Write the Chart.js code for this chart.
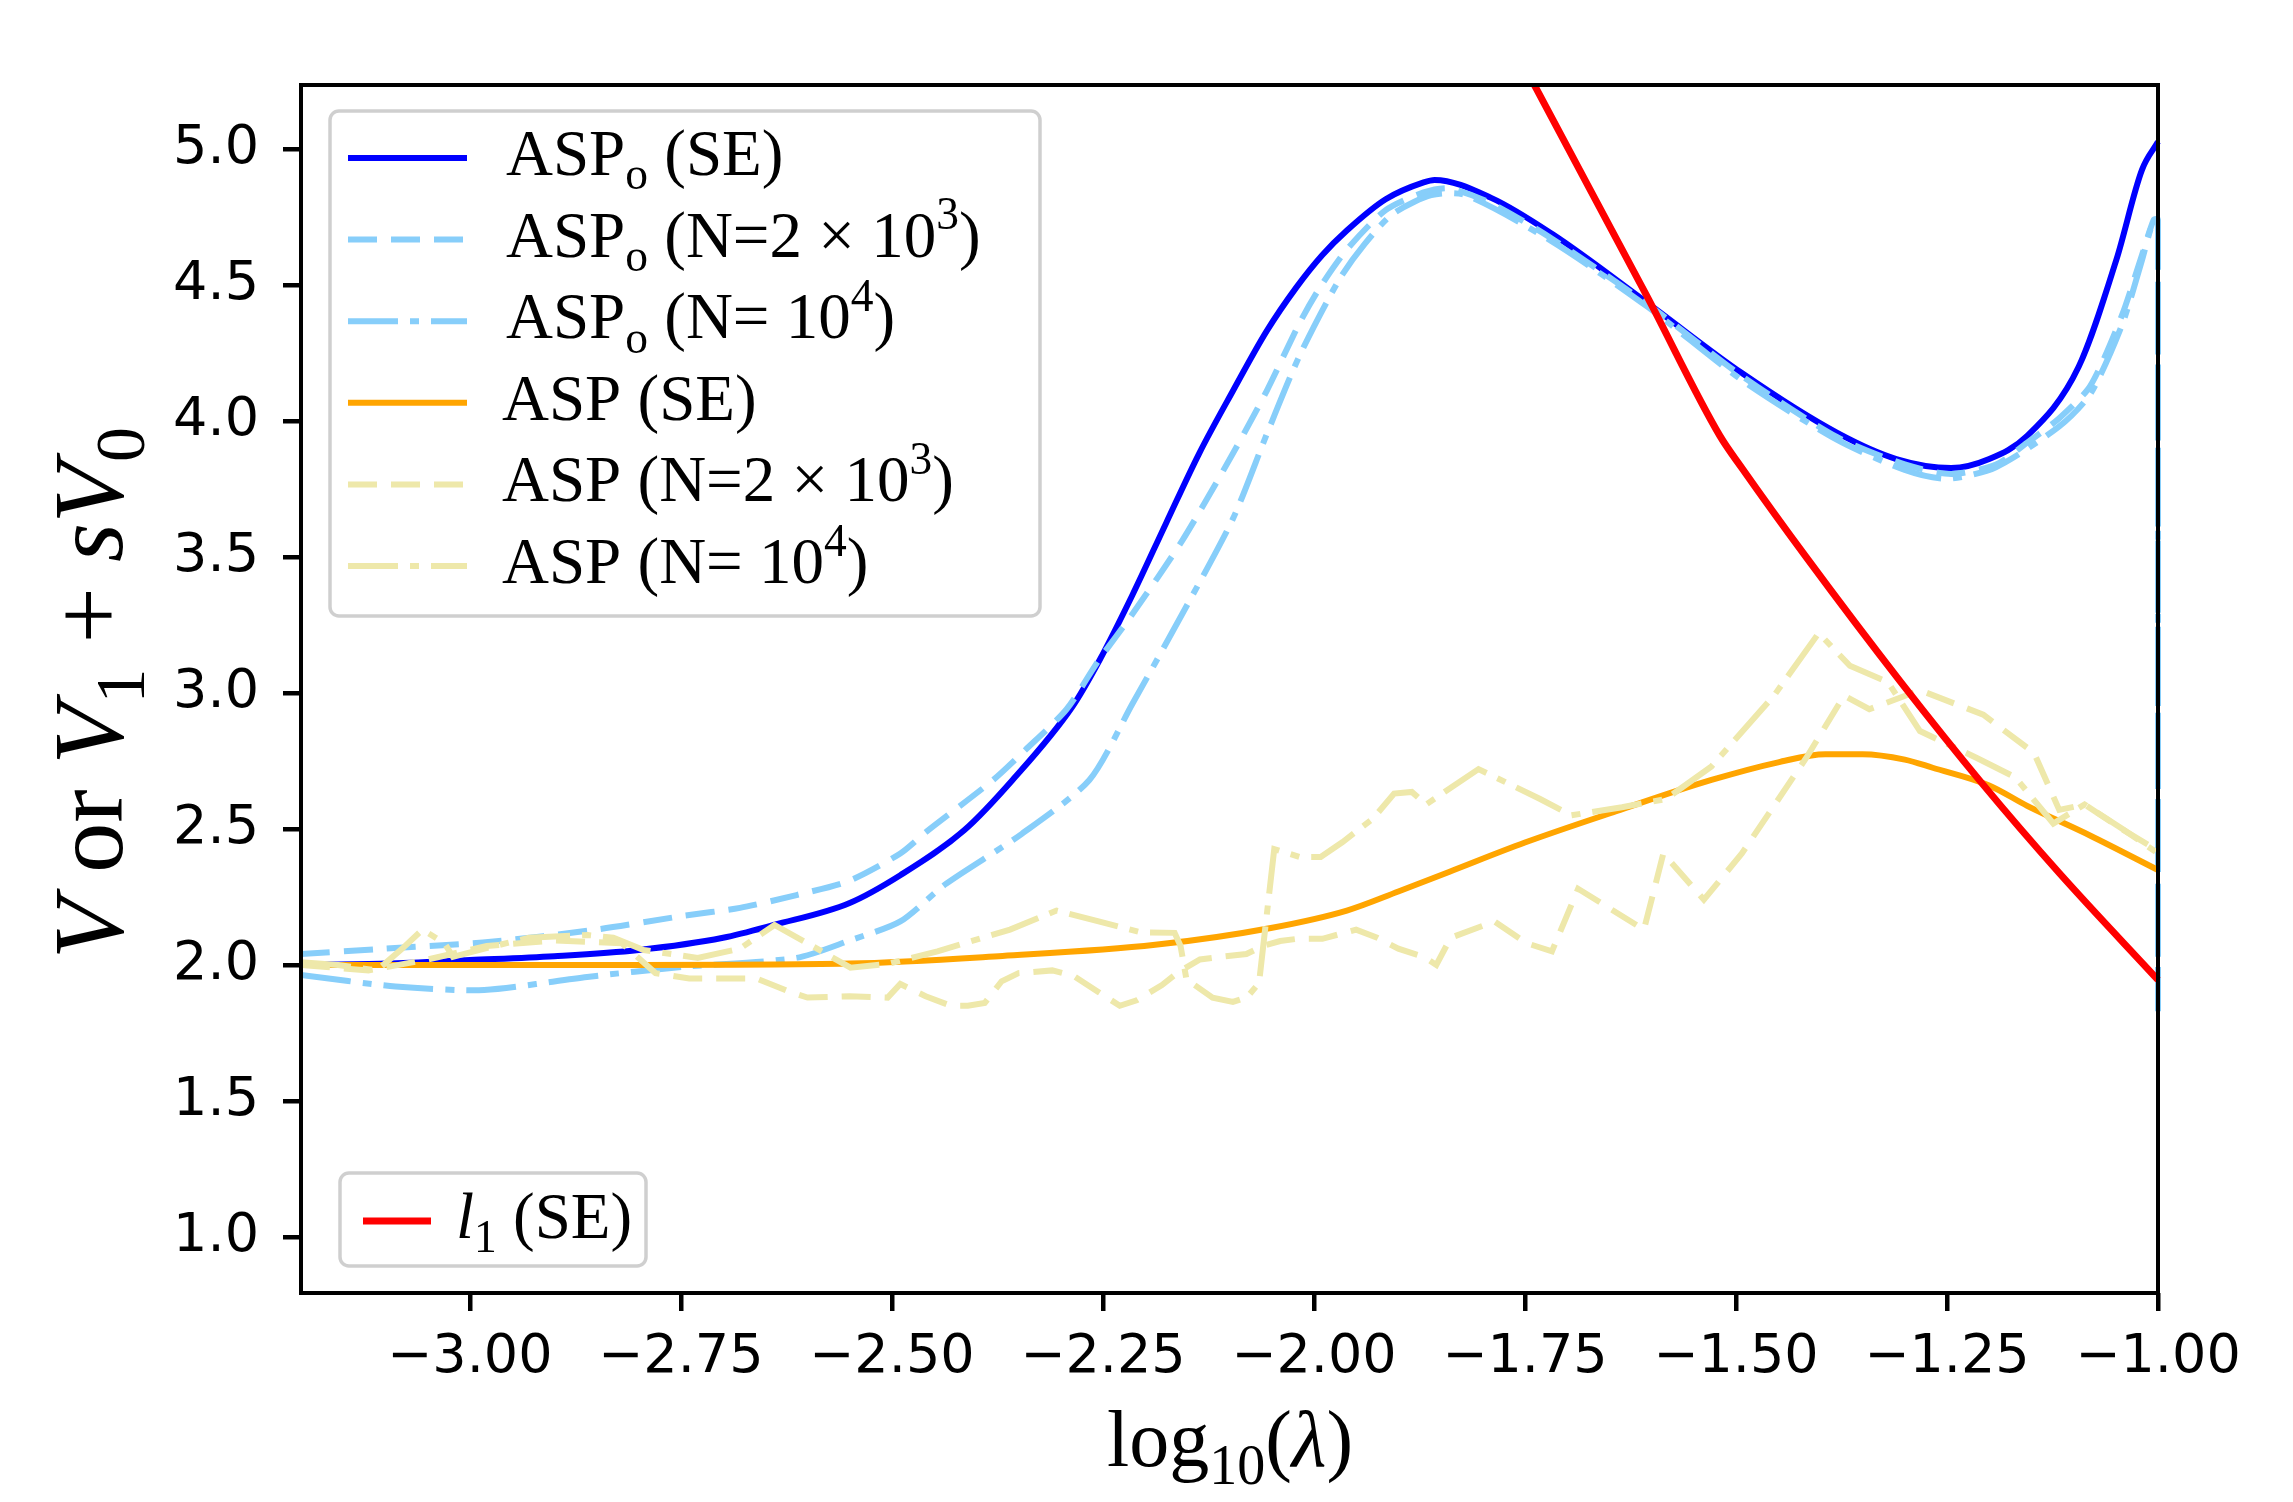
<!DOCTYPE html>
<html>
<head>
<meta charset="utf-8">
<script src="https://cdn.jsdelivr.net/npm/chart.js@4.4.0/dist/chart.umd.min.js"></script>
<style>
  html, body { margin: 0; padding: 0; background: #fff; }
  #wrap { width: 2293px; height: 1502px; }
</style>
</head>
<body>
<div id="wrap"><canvas id="chart" width="2293" height="1502"></canvas></div>
<script>
// axis ticks
const xTicks = [-3.0, -2.75, -2.5, -2.25, -2.0, -1.75, -1.5, -1.25, -1.0];
const yTicks = [1.0, 1.5, 2.0, 2.5, 3.0, 3.5, 4.0, 4.5, 5.0];

// ASP_o (SE)
const aspoSeX = [-3.20, -3.10, -3.00, -2.90, -2.80, -2.70, -2.64, -2.55, -2.49, -2.414, -2.357, -2.286, -2.254, -2.215, -2.175, -2.136, -2.096, -2.056, -2.021, -1.99, -1.961, -1.915, -1.87, -1.857, -1.79, -1.718, -1.605, -1.493, -1.38, -1.31, -1.245, -1.20, -1.155, -1.094, -1.049, -1.019, -1.00];
const aspoSeY = [2.00, 2.005, 2.018, 2.032, 2.055, 2.10, 2.147, 2.228, 2.33, 2.496, 2.68, 2.95, 3.12, 3.36, 3.625, 3.88, 4.11, 4.33, 4.49, 4.61, 4.70, 4.815, 4.877, 4.886, 4.82, 4.688, 4.434, 4.176, 3.956, 3.86, 3.827, 3.86, 3.945, 4.199, 4.596, 4.923, 5.026];

// ASP_o (N = 2e3)
const aspo2kX = [-3.20, -3.10, -2.975, -2.85, -2.748, -2.68, -2.613, -2.55, -2.49, -2.459, -2.38, -2.342, -2.293, -2.255, -2.215, -2.156, -2.096, -2.056, -2.017, -1.993, -1.961, -1.915, -1.87, -1.84, -1.79, -1.718, -1.605, -1.493, -1.38, -1.30, -1.245, -1.192, -1.155, -1.117, -1.08, -1.043, -1.02, -1.005, -1.0, -1.0];
const aspo2kY = [2.04, 2.06, 2.085, 2.13, 2.18, 2.21, 2.257, 2.31, 2.41, 2.49, 2.68, 2.79, 2.94, 3.12, 3.29, 3.56, 3.88, 4.11, 4.36, 4.49, 4.63, 4.775, 4.84, 4.855, 4.80, 4.67, 4.43, 4.165, 3.94, 3.84, 3.805, 3.84, 3.92, 4.01, 4.13, 4.386, 4.60, 4.74, 4.74, 1.88];

// ASP_o (N = 1e4)
const aspo10kX = [-3.20, -3.088, -2.983, -2.861, -2.748, -2.613, -2.55, -2.49, -2.436, -2.346, -2.266, -2.215, -2.156, -2.096, -2.056, -2.017, -1.970, -1.94, -1.907, -1.861, -1.82, -1.718, -1.605, -1.493, -1.38, -1.30, -1.25, -1.192, -1.117, -1.08, -1.043, -1.02, -1.005, -1.0, -1.0];
const aspo10kY = [1.963, 1.921, 1.908, 1.956, 1.993, 2.026, 2.09, 2.16, 2.298, 2.482, 2.68, 2.96, 3.29, 3.64, 3.95, 4.24, 4.52, 4.65, 4.76, 4.83, 4.83, 4.66, 4.42, 4.15, 3.93, 3.82, 3.787, 3.83, 3.98, 4.10, 4.35, 4.58, 4.74, 4.72, 1.83];

// ASP (SE)
const aspSeX = [-3.20, -3.00, -2.80, -2.55, -2.369, -2.188, -2.051, -1.961, -1.90, -1.84, -1.75, -1.642, -1.529, -1.45, -1.394, -1.35, -1.30, -1.267, -1.20, -1.155, -1.08, -1.00];
const aspSeY = [2.00, 2.00, 2.00, 2.005, 2.033, 2.074, 2.136, 2.20, 2.27, 2.342, 2.45, 2.565, 2.68, 2.745, 2.775, 2.775, 2.755, 2.725, 2.66, 2.585, 2.475, 2.349];

// ASP (N = 2e3)
const asp2kX = [-3.20, -3.12, -3.05, -2.98, -2.90, -2.82, -2.78, -2.74, -2.66, -2.62, -2.60, -2.55, -2.505, -2.49, -2.46, -2.43, -2.41, -2.39, -2.37, -2.35, -2.31, -2.285, -2.255, -2.23, -2.21, -2.18, -2.16, -2.135, -2.11, -2.08, -2.06, -2.04, -2.02, -1.99, -1.95, -1.925, -1.90, -1.87, -1.855, -1.838, -1.786, -1.748, -1.718, -1.687, -1.609, -1.586, -1.538, -1.493, -1.417, -1.372, -1.342, -1.282, -1.207, -1.147, -1.117, -1.087, -1.043, -1.00];
const asp2kY = [2.00, 1.98, 2.02, 2.07, 2.09, 2.08, 1.97, 1.95, 1.95, 1.90, 1.88, 1.885, 1.88, 1.93, 1.885, 1.85, 1.85, 1.86, 1.94, 1.97, 1.98, 1.96, 1.90, 1.85, 1.87, 1.926, 1.975, 2.02, 2.03, 2.04, 2.07, 2.088, 2.096, 2.096, 2.13, 2.10, 2.06, 2.03, 2.00, 2.10, 2.16, 2.08, 2.05, 2.28, 2.13, 2.41, 2.24, 2.41, 2.76, 2.99, 2.94, 3.01, 2.92, 2.78, 2.57, 2.59, 2.50, 2.42];

// ASP (N = 1e4)
const asp10kX = [-3.20, -3.156, -3.11, -3.08, -3.056, -3.03, -3.02, -2.97, -2.93, -2.86, -2.83, -2.794, -2.73, -2.68, -2.639, -2.60, -2.549, -2.505, -2.446, -2.36, -2.305, -2.255, -2.205, -2.165, -2.158, -2.151, -2.12, -2.096, -2.079, -2.065, -2.047, -2.017, -1.992, -1.966, -1.93, -1.905, -1.884, -1.867, -1.805, -1.732, -1.695, -1.635, -1.583, -1.529, -1.455, -1.402, -1.365, -1.32, -1.282, -1.214, -1.169, -1.124, -1.087, -1.042, -1.00];
const asp10kY = [2.01, 2.00, 1.98, 2.06, 2.13, 2.08, 2.03, 2.07, 2.10, 2.11, 2.10, 2.055, 2.026, 2.06, 2.147, 2.08, 1.99, 2.004, 2.05, 2.13, 2.20, 2.16, 2.12, 2.118, 2.07, 1.947, 1.88, 1.864, 1.882, 1.934, 2.426, 2.397, 2.397, 2.452, 2.538, 2.63, 2.636, 2.59, 2.72, 2.61, 2.55, 2.58, 2.61, 2.73, 2.99, 3.22, 3.10, 3.04, 2.86, 2.76, 2.69, 2.52, 2.59, 2.50, 2.41];

// l_1 (SE)
const l1SeX = [-1.76, -1.737, -1.605, -1.519, -1.493, -1.417, -1.304, -1.207, -1.117, -1.00];
const l1SeY = [5.36, 5.224, 4.456, 3.945, 3.827, 3.50, 3.037, 2.662, 2.338, 1.945];

// legend labels, as text runs (sub / sup / italic)
const legendMain = [
  [{ t: 'ASP' }, { t: 'o', sub: true }, { t: ' (SE)' }],
  [{ t: 'ASP' }, { t: 'o', sub: true }, { t: ' (N=2 \u00d7 10' }, { t: '3', sup: true }, { t: ')' }],
  [{ t: 'ASP' }, { t: 'o', sub: true }, { t: ' (N= 10' }, { t: '4', sup: true }, { t: ')' }],
  [{ t: 'ASP (SE)' }],
  [{ t: 'ASP (N=2 \u00d7 10' }, { t: '3', sup: true }, { t: ')' }],
  [{ t: 'ASP (N= 10' }, { t: '4', sup: true }, { t: ')' }]
];
const legendRed = [{ t: 'l', it: true }, { t: '1', sub: true }, { t: ' (SE)' }];
const xTitle = [{ t: 'log' }, { t: '10', sub: true }, { t: '(' }, { t: '\u03bb', it: true }, { t: ')' }];
const yTitle = [{ t: 'V', it: true }, { t: ' or ' }, { t: 'V', it: true }, { t: '1', sub: true }, { t: ' + ' }, { t: 's', it: true }, { t: 'V', it: true }, { t: '0', sub: true }];

const SERIF = '"Liberation Serif", "DejaVu Serif", serif';
const DASH = [29, 14];
const DASHDOT = [50, 12, 9, 12];

function pts(xs, ys) {
  return xs.map((x, i) => ({ x, y: ys[i] }));
}

function runFont(run, size) {
  const s = run.sub || run.sup ? size * 0.7 : size;
  return (run.it ? 'italic ' : '') + s + 'px ' + SERIF;
}

function runsWidth(ctx, runs, size) {
  let w = 0;
  runs.forEach((r) => {
    ctx.font = runFont(r, size);
    w += ctx.measureText(r.t).width;
  });
  return w;
}

function drawRuns(ctx, runs, x, y, size, center) {
  let cx = center ? x - runsWidth(ctx, runs, size) / 2 : x;
  ctx.textBaseline = 'alphabetic';
  ctx.textAlign = 'left';
  ctx.fillStyle = '#000';
  runs.forEach((r) => {
    ctx.font = runFont(r, size);
    let dy = 0;
    if (r.sub) dy = size * 0.22;
    if (r.sup) dy = -size * 0.42;
    ctx.fillText(r.t, cx, y + dy);
    cx += ctx.measureText(r.t).width;
  });
}

function roundBox(ctx, x, y, w, h) {
  ctx.save();
  ctx.beginPath();
  ctx.roundRect(x, y, w, h, 9);
  ctx.fillStyle = 'rgba(255,255,255,0.85)';
  ctx.fill();
  ctx.strokeStyle = '#cfcfcf';
  ctx.lineWidth = 3.5;
  ctx.stroke();
  ctx.restore();
}

function handle(ctx, ds, x1, x2, y) {
  ctx.save();
  ctx.strokeStyle = ds.borderColor;
  ctx.lineWidth = ds.borderWidth;
  ctx.setLineDash(ds.borderDash || []);
  ctx.beginPath();
  ctx.moveTo(x1, y);
  ctx.lineTo(x2, y);
  ctx.stroke();
  ctx.restore();
}

const decorations = {
  id: 'decorations',
  afterDatasetsDraw(chart) {
    const { ctx, chartArea: a } = chart;
    ctx.save();
    ctx.strokeStyle = '#000';
    ctx.lineWidth = 4;
    ctx.strokeRect(a.left, a.top, a.right - a.left, a.bottom - a.top);
    ctx.restore();
  },
  afterDraw(chart) {
    const { ctx } = chart;
    const sets = chart.data.datasets;

    // main legend
    roundBox(ctx, 330, 111, 710, 505);
    legendMain.forEach((runs, i) => {
      const y = 158 + i * 81.6;
      handle(ctx, sets[i], 348, 467, y);
      drawRuns(ctx, runs, i < 3 ? 506 : 502, y + 17, 65, false);
    });

    // l1 legend
    roundBox(ctx, 340, 1173, 306, 93);
    handle(ctx, sets[6], 363, 431, 1221);
    drawRuns(ctx, legendRed, 456, 1238, 65, false);

    // axis titles
    drawRuns(ctx, xTitle, 1230, 1466, 80, true);
    ctx.save();
    ctx.translate(122, 693);
    ctx.rotate(-Math.PI / 2);
    drawRuns(ctx, yTitle, 0, 0, 100, true);
    ctx.restore();
  }
};

function makeChart() {
  const el = document.getElementById('chart');
  const base = { pointRadius: 0, borderWidth: 6, fill: false, clip: { left: 0, top: 0, right: 4, bottom: 0 } };
  new Chart(el, {
    type: 'line',
    data: {
      datasets: [
        { ...base, label: 'ASPo (SE)', data: pts(aspoSeX, aspoSeY), borderColor: '#0000ff', cubicInterpolationMode: 'monotone', order: 7 },
        { ...base, label: 'ASPo (N=2e3)', data: pts(aspo2kX, aspo2kY), borderColor: '#87cefa', borderDash: DASH, tension: 0.25, order: 6 },
        { ...base, label: 'ASPo (N=1e4)', data: pts(aspo10kX, aspo10kY), borderColor: '#87cefa', borderDash: DASHDOT, tension: 0.25, order: 5 },
        { ...base, label: 'ASP (SE)', data: pts(aspSeX, aspSeY), borderColor: '#ffa500', cubicInterpolationMode: 'monotone', order: 4 },
        { ...base, label: 'ASP (N=2e3)', data: pts(asp2kX, asp2kY), borderColor: '#eee8aa', borderDash: DASH, tension: 0, order: 3 },
        { ...base, label: 'ASP (N=1e4)', data: pts(asp10kX, asp10kY), borderColor: '#eee8aa', borderDash: DASHDOT, tension: 0, order: 2 },
        { ...base, label: 'l1 (SE)', data: pts(l1SeX, l1SeY), borderColor: '#ff0000', borderWidth: 7, cubicInterpolationMode: 'monotone', order: 1 }
      ]
    },
    options: {
      responsive: false,
      devicePixelRatio: 1,
      animation: false,
      events: [],
      layout: { padding: { left: 0, top: 85, right: 135, bottom: 0 } },
      plugins: { legend: { display: false }, tooltip: { enabled: false } },
      scales: {
        x: {
          type: 'linear',
          min: -3.2,
          max: -1.0,
          afterBuildTicks: (s) => { s.ticks = xTicks.map((v) => ({ value: v })); },
          afterFit: (s) => { s.height = 209; },
          border: { display: false },
          grid: { drawOnChartArea: false, drawTicks: true, tickLength: 18, color: '#000', lineWidth: 4.5 },
          ticks: {
            autoSkip: false,
            maxRotation: 0,
            padding: 15,
            color: '#000',
            font: { family: '"DejaVu Sans", sans-serif', size: 54 },
            callback: (v) => (v < 0 ? '\u2212' : '') + Math.abs(v).toFixed(2)
          },
          title: { display: false }
        },
        y: {
          type: 'linear',
          min: 0.794,
          max: 5.235,
          afterBuildTicks: (s) => { s.ticks = yTicks.map((v) => ({ value: v })); },
          afterFit: (s) => { s.width = 301; },
          border: { display: false },
          grid: { drawOnChartArea: false, drawTicks: true, tickLength: 18, color: '#000', lineWidth: 4.5 },
          ticks: {
            autoSkip: false,
            padding: 24,
            color: '#000',
            font: { family: '"DejaVu Sans", sans-serif', size: 54 },
            callback: (v) => v.toFixed(1)
          },
          title: { display: false }
        }
      }
    },
    plugins: [decorations]
  });
}

makeChart();
</script>
</body>
</html>
